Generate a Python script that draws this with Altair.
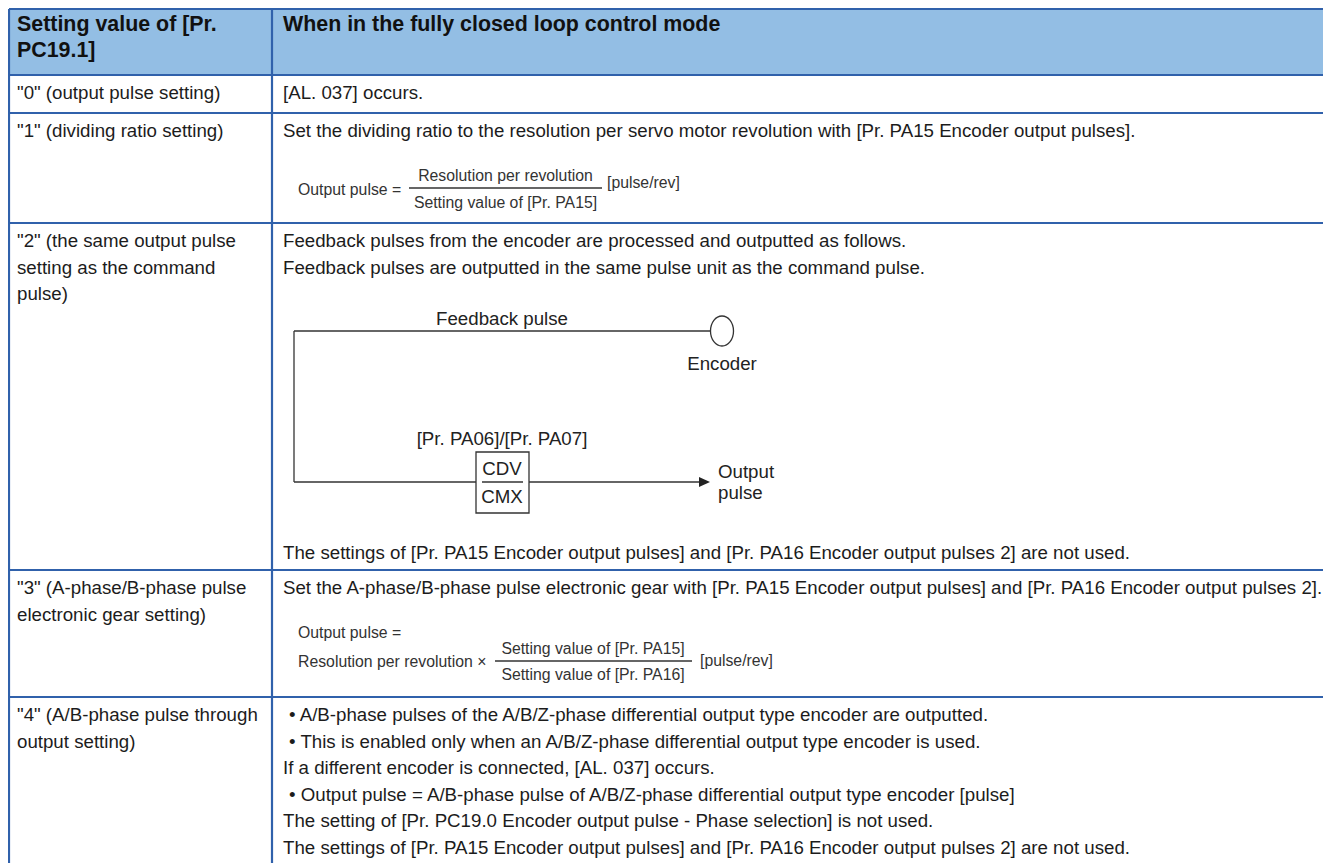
import altair as alt
import pandas as pd

FONT = "Liberation Sans"

# ---------------- content ----------------
header_left = ["Setting value of [Pr.", "PC19.1]"]
header_right = ["When in the fully closed loop control mode"]
setting_labels = [
    ['"0" (output pulse setting)'],
    ['"1" (dividing ratio setting)'],
    ['"2" (the same output pulse', "setting as the command", "pulse)"],
    ['"3" (A-phase/B-phase pulse', "electronic gear setting)"],
    ['"4" (A/B-phase pulse through', "output setting)"],
]
row0_text = ["[AL. 037] occurs."]
row1_text = ["Set the dividing ratio to the resolution per servo motor revolution with [Pr. PA15 Encoder output pulses]."]
row1_formula = ["Output pulse =", "Resolution per revolution", "Setting value of [Pr. PA15]", "[pulse/rev]"]
row2_text = [
    "Feedback pulses from the encoder are processed and outputted as follows.",
    "Feedback pulses are outputted in the same pulse unit as the command pulse.",
]
row2_footer = ["The settings of [Pr. PA15 Encoder output pulses] and [Pr. PA16 Encoder output pulses 2] are not used."]
diagram_labels = ["Feedback pulse", "Encoder", "[Pr. PA06]/[Pr. PA07]", "CDV", "CMX", "Output", "pulse"]
row3_text = ["Set the A-phase/B-phase pulse electronic gear with [Pr. PA15 Encoder output pulses] and [Pr. PA16 Encoder output pulses 2]."]
row3_formula = ["Output pulse =", "Resolution per revolution \u00d7", "Setting value of [Pr. PA15]",
                "Setting value of [Pr. PA16]", "[pulse/rev]"]
row4_lines = [
    "\u2022 A/B-phase pulses of the A/B/Z-phase differential output type encoder are outputted.",
    "\u2022 This is enabled only when an A/B/Z-phase differential output type encoder is used.",
    "If a different encoder is connected, [AL. 037] occurs.",
    "\u2022 Output pulse = A/B-phase pulse of A/B/Z-phase differential output type encoder [pulse]",
    "The setting of [Pr. PC19.0 Encoder output pulse - Phase selection] is not used.",
    "The settings of [Pr. PA15 Encoder output pulses] and [Pr. PA16 Encoder output pulses 2] are not used.",
]

# ---------------- layout (page pixel coordinates) ----------------
W, H = 1315, 855
TOP, LEFT, RIGHT, BOTTOM = 9, 9, 1323, 863
COL = 272
ROW_LINES = [75, 113, 223, 570, 697]
LINE_H = 26.6
FIRST = 17
TX_L, TX_R = 17, 283
DY = 1  # middle-baseline correction

BORDER = "#3061ab"
HEADER_FILL = "#93bee4"
TEXT = "#1c1c1c"
FTEXT = "#333333"
DIAG = "#333333"

texts = []


def add(x, y, s, style):
    texts.append({"x": x, "y": y + DY, "text": s, "style": style})


for k, s in enumerate(header_left):
    add(TX_L, 24 + k * 26, s, "hdr")
for s in header_right:
    add(TX_R, 24, s, "hdr")

for i, lines in enumerate(setting_labels):
    for k, s in enumerate(lines):
        add(TX_L, ROW_LINES[i] + FIRST + k * LINE_H, s, "body")

right_first = [row0_text, row1_text, row2_text, row3_text]
for i, lines in enumerate(right_first):
    for k, s in enumerate(lines):
        add(TX_R, ROW_LINES[i] + FIRST + k * LINE_H, s, "body")
add(TX_R, ROW_LINES[3] - 18, row2_footer[0], "body")
for k, s in enumerate(row4_lines):
    add(TX_R + (6 if s.startswith("\u2022") else 0), ROW_LINES[4] + FIRST + k * LINE_H, s, "body")

# formula row 1
add(298, 189, row1_formula[0], "fleft")
add(505.5, 175, row1_formula[1], "fcenter")
add(505.5, 202, row1_formula[2], "fcenter")
add(607, 182, row1_formula[3], "fleft")
# formula row 3
add(298, 632, row3_formula[0], "fleft")
add(298, 661, row3_formula[1], "fleft")
add(593, 648, row3_formula[2], "fcenter")
add(593, 674, row3_formula[3], "fcenter")
add(700, 660, row3_formula[4], "fleft")

# diagram labels
add(502, 318, diagram_labels[0], "dcenter")
add(722, 363, diagram_labels[1], "dcenter")
add(502, 438, diagram_labels[2], "dcenter")
add(502, 468, diagram_labels[3], "dcenter")
add(502, 496, diagram_labels[4], "dcenter")
add(718, 471, diagram_labels[5], "dleft")
add(718, 492, diagram_labels[6], "dleft")

text_df = pd.DataFrame(texts)

border_df = pd.DataFrame(
    [{"x": LEFT, "x2": RIGHT, "y": TOP, "y2": TOP}]
    + [{"x": LEFT, "x2": RIGHT, "y": y, "y2": y} for y in ROW_LINES]
    + [{"x": LEFT, "x2": LEFT, "y": TOP, "y2": BOTTOM},
       {"x": COL, "x2": COL, "y": TOP, "y2": BOTTOM}]
)

diag_df = pd.DataFrame([
    {"x": 294, "x2": 710, "y": 331, "y2": 331},
    {"x": 294, "x2": 294, "y": 331, "y2": 482},
    {"x": 294, "x2": 476, "y": 482, "y2": 482},
    {"x": 529, "x2": 700, "y": 482, "y2": 482},
    {"x": 482, "x2": 523, "y": 482, "y2": 482},
    {"x": 409, "x2": 602, "y": 188, "y2": 188},
    {"x": 495, "x2": 692, "y": 661, "y2": 661},
])

xs = alt.Scale(domain=[8, 8 + W], range=[0, W], zero=False, nice=False)
ys = alt.Scale(domain=[8, 8 + H], range=[0, H], zero=False, nice=False)


def X(f):
    return alt.X(f, scale=xs, axis=None)


def Y(f):
    return alt.Y(f, scale=ys, axis=None)


header = alt.Chart(pd.DataFrame([{"x": LEFT, "x2": RIGHT, "y": TOP, "y2": ROW_LINES[0]}])).mark_rect(
    fill=HEADER_FILL
).encode(x=X("x:Q"), x2="x2:Q", y=Y("y:Q"), y2="y2:Q")

borders = alt.Chart(border_df).mark_rule(color=BORDER, strokeWidth=2.2).encode(
    x=X("x:Q"), x2="x2:Q", y=Y("y:Q"), y2="y2:Q"
)

box = alt.Chart(pd.DataFrame([{"x": 476, "x2": 529, "y": 452, "y2": 513}])).mark_rect(
    fill="white", stroke=DIAG, strokeWidth=1.3
).encode(x=X("x:Q"), x2="x2:Q", y=Y("y:Q"), y2="y2:Q")

diag_lines = alt.Chart(diag_df).mark_rule(color=DIAG, strokeWidth=1.3).encode(
    x=X("x:Q"), x2="x2:Q", y=Y("y:Q"), y2="y2:Q"
)

ellipse = alt.Chart(pd.DataFrame([{"x": 722, "y": 331}])).mark_point(
    shape="M -0.767 0 A 0.767 1 0 1 0 0.767 0 A 0.767 1 0 1 0 -0.767 0 Z",
    size=900, filled=False, fill="white", stroke=DIAG, strokeWidth=1.3, opacity=1,
).encode(x=X("x:Q"), y=Y("y:Q"))

arrow = alt.Chart(pd.DataFrame([{"x": 704.5, "y": 482}])).mark_point(
    shape="M -1 -0.9 L 1 0 L -1 0.9 Z", size=121, filled=True, color="#222222", opacity=1,
).encode(x=X("x:Q"), y=Y("y:Q"))

styles = {
    "hdr": dict(fontSize=21.4, fontWeight="bold", align="left", color="#111111"),
    "body": dict(fontSize=18.7, align="left", color=TEXT),
    "fleft": dict(fontSize=15.8, align="left", color=FTEXT),
    "fcenter": dict(fontSize=15.8, align="center", color=FTEXT),
    "dleft": dict(fontSize=18.7, align="left", color="#222222"),
    "dcenter": dict(fontSize=18.7, align="center", color="#222222"),
}

text_layers = []
for name, st in styles.items():
    text_layers.append(
        alt.Chart(text_df[text_df["style"] == name]).mark_text(
            font=FONT, baseline="middle", **st
        ).encode(x=X("x:Q"), y=Y("y:Q"), text="text:N")
    )

chart = alt.layer(header, borders, box, diag_lines, ellipse, arrow, *text_layers).properties(
    width=W, height=H, padding=0, autosize=alt.AutoSizeParams(type="none"),
    background="white",
).configure_view(stroke=None)

chart.save("out.html", embed_options={"renderer": "svg", "actions": False})
